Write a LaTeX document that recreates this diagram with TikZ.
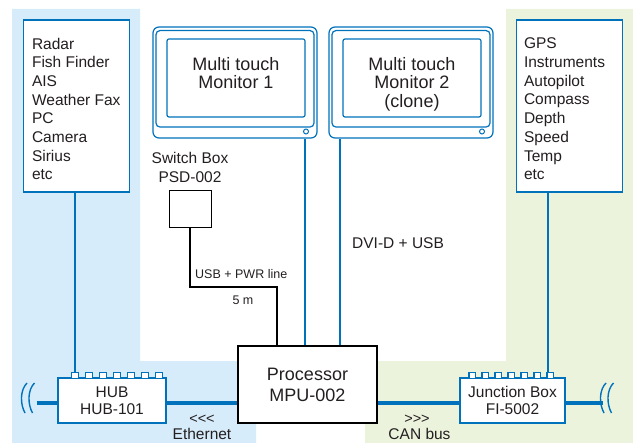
\documentclass[tikz,border=0pt]{standalone}
\usepackage{fontspec}
\setmainfont{Liberation Sans}
\usepackage{tikz}
\usetikzlibrary{positioning}

\definecolor{netblue}{RGB}{0,114,188}
\definecolor{lanbg}{RGB}{215,236,250}
\definecolor{canbg}{RGB}{236,243,221}
\definecolor{inktext}{RGB}{35,31,32}

\begin{document}
\begin{tikzpicture}[x=1bp,y=-1bp,
    every node/.style={text=inktext,inner sep=0pt},
    listbox/.style={draw=netblue,line width=1.3bp,fill=white,minimum width=106bp,minimum height=172bp},
    listtext/.style={anchor=west,align=left,font=\fontsize{15.5bp}{18.7bp}\selectfont},
    monframe/.style={draw=netblue,line width=1.2bp,fill=white,rounded corners=6bp,minimum width=164bp,minimum height=111bp},
    monbezel/.style={draw=netblue,line width=1.2bp,rounded corners=4bp,minimum width=158bp,minimum height=96.5bp},
    monscreen/.style={draw=netblue,line width=1.2bp,rounded corners=2bp,minimum width=138bp,minimum height=78bp},
    montext/.style={anchor=north,align=center,font=\fontsize{18bp}{18.5bp}\selectfont},
    hubbox/.style={draw=netblue,line width=1.3bp,fill=white,minimum height=45bp,align=center,font=\fontsize{15.5bp}{16.5bp}\selectfont},
    hubtab/.style={draw=netblue,line width=1.3bp,fill=white},
    procbox/.style={draw=black,line width=1.2bp,fill=white,minimum width=139bp,minimum height=77bp,align=center,font=\fontsize{18bp}{21bp}\selectfont},
    swbox/.style={draw=black,line width=0.8bp,fill=white,minimum width=42bp,minimum height=37bp},
    vline/.style={draw=netblue,line width=2bp},
    bus/.style={draw=netblue,line width=4.4bp},
    breakmark/.style={draw=netblue,line width=1.4bp},
    cable/.style={draw=black,line width=2bp},
    lbl/.style={font=\fontsize{15.5bp}{19bp}\selectfont},
    smalllbl/.style={font=\fontsize{12.5bp}{15bp}\selectfont},
    dirlbl/.style={font=\fontsize{14.5bp}{15bp}\selectfont}
]
\useasboundingbox (0,0) rectangle (633,443);

% network zones
\fill[lanbg] (12,9) -- (140,9) -- (140,361) -- (256,361) -- (256,443) -- (12,443) -- cycle;
\fill[canbg] (506,9) -- (633,9) -- (633,443) -- (365,443) -- (365,361) -- (506,361) -- cycle;

% backbone
\coordinate (lbreak) at (37,403);
\coordinate (rbreak) at (603,403);
\draw[bus] (lbreak) -- (rbreak);
\foreach \bx in {22,29.5,601,608.5}
  \draw[breakmark] (\bx+5,383) .. controls (\bx-2,390) and (\bx-2,404) .. (\bx+3,413);

% device lists
\node[listbox] (lanlist) at (76.5,106) {};
\node[listtext] (lantext) at ([shift={(9,3)}]lanlist.west) {Radar\\Fish Finder\\AIS\\Weather Fax\\PC\\Camera\\Sirius\\etc};
\node[listbox] (canlist) at (569.5,106) {};
\node[listtext] (cantext) at ([shift={(8,3)}]canlist.west) {GPS\\Instruments\\Autopilot\\Compass\\Depth\\Speed\\Temp\\etc};

% monitors
\node[monframe] (mon1) at (235,82.5) {};
\node[monbezel] (bez1) at (235,78.8) {};
\node[monscreen] (scr1) at (236,78) {};
\node[montext] (mtxt1) at (236,57) {Multi touch\\Monitor 1};
\node[circle,draw=netblue,line width=1bp,minimum size=5bp] (led1) at (306,131.5) {};

\node[monframe] (mon2) at (411,82.5) {};
\node[monbezel] (bez2) at (411,78.8) {};
\node[monscreen] (scr2) at (412,78) {};
\node[montext] (mtxt2) at (412,57) {Multi touch\\Monitor 2\\(clone)};
\node[circle,draw=netblue,line width=1bp,minimum size=5bp] (led2) at (482,131.5) {};

% switch box
\node[swbox] (sw) at (190,208.5) {};
\node[lbl,align=center,above=6.5bp of sw] (swtxt) {Switch Box\\PSD-002};

% processor, hub, junction box
\node[procbox] (proc) at (307.5,384.5) {Processor\\MPU-002};
\node[hubbox,minimum width=108bp] (hub) at (112,400.5) {HUB\\HUB-101};
\node[hubbox,minimum width=105bp] (jbox) at (512.5,400.5) {Junction Box\\FI-5002};

\foreach \i in {0,...,6}{
  \path[hubtab] ([xshift=14bp+14bp*\i]hub.north west) ++(0,0.6) -- ++(0,-5.6) -- ++(7,0) -- ++(0,5.6);
  \path[hubtab] ([xshift=9.5bp+13bp*\i]jbox.north west) ++(0,0.6) -- ++(0,-5.6) -- ++(6.5,0) -- ++(0,5.6);
}

% connectors
\coordinate (hubtop) at ([yshift=5bp]hub.north);
\coordinate (jbtop) at ([yshift=5bp]jbox.north);
\draw[vline] ([xshift=-1.5bp]lanlist.south) -- ([xshift=-1.5bp]lanlist.south |- hubtop);
\draw[vline] ([xshift=-21.5bp]canlist.south) -- ([xshift=-21.5bp]canlist.south |- jbtop);
\draw[vline] ([xshift=70bp]mon1.south) -- ([xshift=70bp]mon1.south |- proc.north);
\draw[vline] ([xshift=-71bp]mon2.south) -- ([xshift=-71bp]mon2.south |- proc.north);
\coordinate (pwrin) at ([xshift=-30.5bp]proc.north);
\draw[cable] (sw.south) -- ++(0,60) -| (pwrin);

% labels
\node[smalllbl,anchor=base west] (usblbl) at (195,278.5) {USB + PWR line};
\node[smalllbl,anchor=base] (lenlbl) at (243,305) {5 m};
\node[lbl,anchor=base west] (dvilbl) at (352,249) {DVI-D + USB};
\node[dirlbl,anchor=base] (ethdir) at (202,423) {<{}<{}<};
\node[lbl,anchor=base] (ethlbl) at (202,439.5) {Ethernet};
\node[dirlbl,anchor=base] (candir) at (417,423) {>{}>{}>};
\node[lbl,anchor=base] (canlbl) at (419.5,439.5) {CAN bus};
\end{tikzpicture}
\end{document}
